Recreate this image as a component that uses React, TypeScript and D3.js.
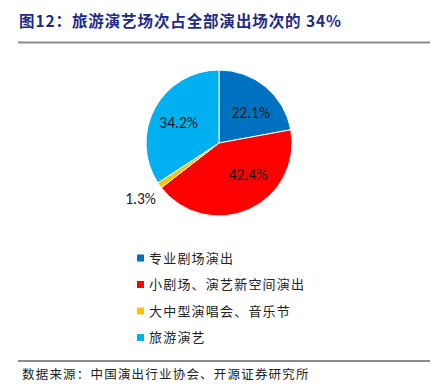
import React from "react";
import * as d3 from "d3";

const categories = ["专业剧场演出", "小剧场、演艺新空间演出", "大中型演唱会、音乐节", "旅游演艺"];
const values = [22.1, 42.4, 1.3, 34.2];
const colors = ["#0070C0", "#FF0000", "#FFC000", "#00B0F0"];
const labelRadius = [0.6, 0.59, 1.32, 0.62];
const labelAngleShift = [0.116, -0.316, 0, -0.03];
const titleText = "图12：旅游演艺场次占全部演出场次的 34%";
const sourceText = "数据来源：中国演出行业协会、开源证券研究所";

export default function App() {
  const W = 430, H = 385;
  const cx = 219, cy = 143, r = 73;
  const pie = d3.pie<number>().sort(null).value((d) => d);
  const arcs = pie(values);
  const arcGen = d3.arc<d3.PieArcDatum<number>>().innerRadius(0).outerRadius(r);
  const font = "'Noto Sans CJK SC', 'Noto Sans', sans-serif";
  return (
    <svg width={W} height={H} style={{ position: "absolute", left: 0, top: 0, background: "#fff" }}>
      <text x={19} y={27} fontFamily={font} fontWeight="bold" fontSize={15.5} fill="#1C2B85" letterSpacing={0.9}>
        {titleText}
      </text>
      <line x1={18} x2={430} y1={42.5} y2={42.5} stroke="#8c8c8c" strokeWidth={2} />
      <g transform={`translate(${cx},${cy})`}>
        {arcs.map((a, i) => (
          <path key={i} d={arcGen(a) || ""} fill={colors[i]} stroke="#fff" strokeWidth={1} />
        ))}
        {arcs.map((a, i) => {
          const mid = (a.startAngle + a.endAngle) / 2 + labelAngleShift[i];
          const rr = r * labelRadius[i];
          const x = Math.sin(mid) * rr;
          const y = -Math.cos(mid) * rr;
          return (
            <text key={i} x={x} y={y} dy="0.35em" textAnchor="middle" fontFamily="Carlito, Calibri, 'Liberation Sans', sans-serif" fontSize={15.5} fill="#1a1a1a">
              {values[i].toFixed(1)}%
            </text>
          );
        })}
      </g>
      {categories.map((c, i) => {
        const y = 258 + i * 26.5;
        return (
          <g key={i}>
            <rect x={137} y={y - 3.5} width={7} height={7} fill={colors[i]} />
            <text x={149} y={y} dy="0.35em" fontFamily={font} fontSize={13} fill="#222" letterSpacing={1.2}>
              {c}
            </text>
          </g>
        );
      })}
      <line x1={18} x2={430} y1={361} y2={361} stroke="#8c8c8c" strokeWidth={2} />
      <text x={22} y={379} fontFamily={font} fontSize={12.5} fill="#222" letterSpacing={1.2}>
        {sourceText}
      </text>
    </svg>
  );
}
